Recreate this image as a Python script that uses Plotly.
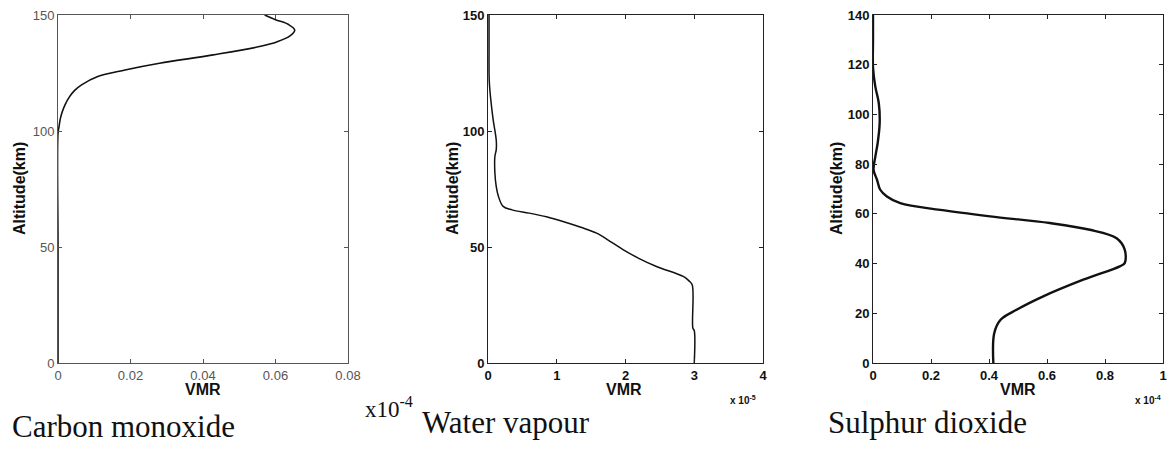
import plotly.graph_objects as go

# ---------------- data ----------------
# Carbon monoxide (VMR) vs altitude (km)
co_alt = [0, 50, 99, 102, 105, 108.4, 111.5, 114.8, 117.5, 119.9, 123.4, 126.3, 129.2, 132.8, 136.4, 138.5, 141, 143.5, 146, 148, 150]
co_vmr = [0, 0, 0, 0.0003, 0.0006, 0.0012, 0.002, 0.0032, 0.0046, 0.0065, 0.0108, 0.0185, 0.028, 0.0428, 0.0556, 0.0605, 0.064, 0.0653, 0.0635, 0.060, 0.057]

# Water vapour (VMR, units of 1e-5) vs altitude (km)
h2o_alt = [0, 14, 15, 33.7, 35.5, 37.3, 41.6, 45, 48.8, 52, 56, 58.5, 61, 63, 64.6, 66, 67.5, 72, 76, 82, 89, 92, 96, 106, 120.6, 135, 150]
h2o_vmr = [3.0, 3.0, 2.98, 2.97, 2.92, 2.84, 2.45, 2.2, 1.97, 1.8, 1.58, 1.35, 1.09, 0.85, 0.6, 0.35, 0.22, 0.15, 0.12, 0.1, 0.1, 0.12, 0.12, 0.07, 0.02, 0.015, 0.015]

# Sulphur dioxide (VMR, units of 1e-4) vs altitude (km)
so2_alt = [0, 12, 17.4, 21.4, 26.8, 33.5, 38.9, 40.2, 45.6, 50.2, 53.6, 56.3, 59, 61.6, 64.3, 67, 69.7, 73.7, 77.7, 83, 88.4, 96.5, 104.5, 111.2, 119, 130, 140]
so2_vmr = [0.415, 0.418, 0.44, 0.495, 0.587, 0.725, 0.851, 0.868, 0.868, 0.84, 0.748, 0.61, 0.404, 0.232, 0.094, 0.048, 0.025, 0.014, 0.002, 0.008, 0.016, 0.023, 0.02, 0.008, 0, 0, 0]

panel_names = ["Carbon monoxide", "Water vapour", "Sulphur dioxide"]
x_label = "VMR"
y_label = "Altitude(km)"
co_ticks = [0, 0.02, 0.04, 0.06, 0.08]
co_ticktext = ["0", "0.02", "0.04", "0.06", "0.08"]
h2o_ticks = [0, 1, 2, 3, 4]
so2_ticks = [0, 0.2, 0.4, 0.6, 0.8, 1]
so2_ticktext = ["0", "0.2", "0.4", "0.6", "0.8", "1"]

W, H = 1173, 453

def px_x(p):
    return p / W

def px_y(p):
    return 1 - p / H

fig = go.Figure()
fig.add_trace(go.Scatter(x=co_vmr, y=co_alt, mode="lines", line=dict(color="#111", width=1.6, shape="spline"),
                         xaxis="x", yaxis="y", showlegend=False))
fig.add_trace(go.Scatter(x=h2o_vmr, y=h2o_alt, mode="lines", line=dict(color="#111", width=1.5, shape="spline"),
                         xaxis="x2", yaxis="y2", showlegend=False))
fig.add_trace(go.Scatter(x=so2_vmr, y=so2_alt, mode="lines", line=dict(color="#111", width=2.4, shape="spline"),
                         xaxis="x3", yaxis="y3", showlegend=False))

ydom = [px_y(363), px_y(15)]
reg_font = dict(family="Liberation Sans", size=13, color="#555")
bold_font = dict(family="Liberation Sans", size=13, color="#111", weight="bold")

def axis(dom, rng, tickvals, ticktext, font, anchor, linecolor):
    return dict(domain=dom, range=rng, tickvals=tickvals, ticktext=ticktext, showgrid=False, zeroline=False,
                showline=True, linecolor=linecolor, linewidth=1, mirror="ticks", automargin=False,
                ticks="inside", ticklen=4, tickcolor=linecolor, tickfont=font, anchor=anchor)

fig.update_layout(
    width=W, height=H, margin=dict(l=0, r=0, t=0, b=0, autoexpand=False),
    paper_bgcolor="white", plot_bgcolor="white",
    xaxis=axis([px_x(58), px_x(348)], [0, 0.08], co_ticks, co_ticktext, reg_font, "y", "#555"),
    yaxis=axis(ydom, [0, 150], [0, 50, 100, 150], ["0", "50", "100", "150"], reg_font, "x", "#555"),
    xaxis2=axis([px_x(488), px_x(763)], [0, 4], h2o_ticks, [str(v) for v in h2o_ticks], bold_font, "y2", "#222"),
    yaxis2=axis(ydom, [0, 150], [0, 50, 100, 150], ["0", "50", "100", "150"], bold_font, "x2", "#222"),
    xaxis3=axis([px_x(873), px_x(1163)], [0, 1], so2_ticks, so2_ticktext, bold_font, "y3", "#222"),
    yaxis3=axis(ydom, [0, 140], list(range(0, 141, 20)), [str(v) for v in range(0, 141, 20)], bold_font, "x3", "#222"),
)

title_font = dict(family="Liberation Sans", size=16, color="#111", weight="bold")
serif = dict(family="Liberation Serif, Times New Roman", size=31, color="#111")
ann = []
# VMR labels
for cx in (203, 624, 1018):
    ann.append(dict(text="<b>" + x_label + "</b>", x=px_x(cx), y=px_y(389), xref="paper", yref="paper",
                    xanchor="center", yanchor="middle", showarrow=False, font=title_font))
# Altitude labels
for cx in (19, 452, 836):
    ann.append(dict(text="<b>" + y_label + "</b>", x=px_x(cx), y=px_y(189), xref="paper", yref="paper",
                    xanchor="center", yanchor="middle", textangle=-90, showarrow=False, font=title_font))
# multipliers
small = dict(family="Liberation Sans", size=10, color="#111")
ann.append(dict(text="<b>x 10<sup>-5</sup></b>", x=px_x(758), y=px_y(400), xref="paper", yref="paper",
                xanchor="right", yanchor="middle", showarrow=False, font=small))
ann.append(dict(text="<b>x 10<sup>-4</sup></b>", x=px_x(1163), y=px_y(400), xref="paper", yref="paper",
                xanchor="right", yanchor="middle", showarrow=False, font=small))
ann.append(dict(text="x10<sup>-4</sup>", x=px_x(363), y=px_y(407), xref="paper", yref="paper",
                xanchor="left", yanchor="middle", showarrow=False,
                font=dict(family="Liberation Serif, Times New Roman", size=23, color="#111")))
# panel names
for name, lx, cy in zip(panel_names, (10, 420, 826), (426, 422, 422)):
    ann.append(dict(text=name, x=px_x(lx), y=px_y(cy), xref="paper", yref="paper",
                    xanchor="left", yanchor="middle", showarrow=False, font=serif))
fig.update_layout(annotations=ann)

fig.write_html("out.html")
